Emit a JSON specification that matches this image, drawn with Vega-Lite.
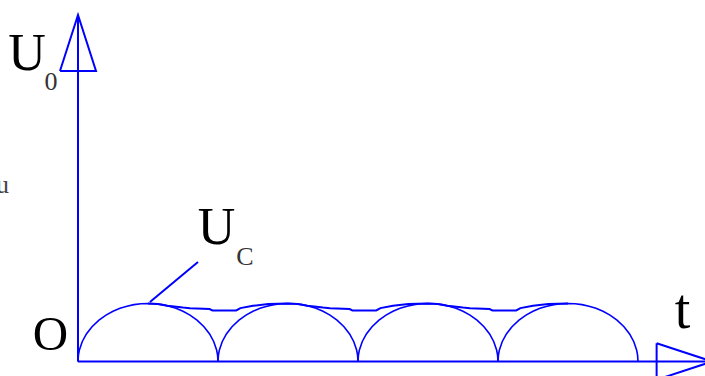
{
  "$schema": "https://vega.github.io/schema/vega-lite/v6.json",
  "width": 705,
  "height": 376,
  "autosize": {"type": "fit", "contains": "padding"},
  "padding": 0,
  "background": "white",
  "config": {"view": {"stroke": null}},
  "datasets": {
    "axes": [
      {"s": "xaxis", "t": 0, "v": 0}, {"s": "xaxis", "t": 46, "v": 0},
      {"s": "yaxis", "t": 0, "v": 0}, {"s": "yaxis", "t": 0, "v": 59.74},
      {"s": "xarrow", "t": 41.33, "v": 3.15}, {"s": "xarrow", "t": 45.29, "v": 0}, {"s": "xarrow", "t": 41.33, "v": -3.15}, {"s": "xarrow", "t": 41.33, "v": 3.15},
      {"s": "yarrow", "t": -1.286, "v": 50.09}, {"s": "yarrow", "t": 0, "v": 59.74}, {"s": "yarrow", "t": 1.286, "v": 50.09}, {"s": "yarrow", "t": -1.286, "v": 50.09}
    ],
    "humps": [
      {"s": "h1", "t": 0, "v": 0}, {"s": "h1", "t": 0.03, "v": 1.09}, {"s": "h1", "t": 0.1, "v": 1.99}, {"s": "h1", "t": 0.3, "v": 3.41}, {"s": "h1", "t": 0.6, "v": 4.75}, {"s": "h1", "t": 1, "v": 6.0}, {"s": "h1", "t": 1.5, "v": 7.14}, {"s": "h1", "t": 2, "v": 8.0}, {"s": "h1", "t": 2.5, "v": 8.66}, {"s": "h1", "t": 3, "v": 9.17}, {"s": "h1", "t": 3.5, "v": 9.54}, {"s": "h1", "t": 4, "v": 9.8}, {"s": "h1", "t": 4.5, "v": 9.95}, {"s": "h1", "t": 5, "v": 10}, {"s": "h1", "t": 5.5, "v": 9.95}, {"s": "h1", "t": 6, "v": 9.8}, {"s": "h1", "t": 6.5, "v": 9.54}, {"s": "h1", "t": 7, "v": 9.17}, {"s": "h1", "t": 7.5, "v": 8.66}, {"s": "h1", "t": 8, "v": 8.0}, {"s": "h1", "t": 8.5, "v": 7.14}, {"s": "h1", "t": 9, "v": 6.0}, {"s": "h1", "t": 9.4, "v": 4.75}, {"s": "h1", "t": 9.7, "v": 3.41}, {"s": "h1", "t": 9.9, "v": 1.99}, {"s": "h1", "t": 9.97, "v": 1.09}, {"s": "h1", "t": 10, "v": 0},
      {"s": "h2", "t": 10, "v": 0}, {"s": "h2", "t": 10.03, "v": 1.09}, {"s": "h2", "t": 10.1, "v": 1.99}, {"s": "h2", "t": 10.3, "v": 3.41}, {"s": "h2", "t": 10.6, "v": 4.75}, {"s": "h2", "t": 11, "v": 6.0}, {"s": "h2", "t": 11.5, "v": 7.14}, {"s": "h2", "t": 12, "v": 8.0}, {"s": "h2", "t": 12.5, "v": 8.66}, {"s": "h2", "t": 13, "v": 9.17}, {"s": "h2", "t": 13.5, "v": 9.54}, {"s": "h2", "t": 14, "v": 9.8}, {"s": "h2", "t": 14.5, "v": 9.95}, {"s": "h2", "t": 15, "v": 10}, {"s": "h2", "t": 15.5, "v": 9.95}, {"s": "h2", "t": 16, "v": 9.8}, {"s": "h2", "t": 16.5, "v": 9.54}, {"s": "h2", "t": 17, "v": 9.17}, {"s": "h2", "t": 17.5, "v": 8.66}, {"s": "h2", "t": 18, "v": 8.0}, {"s": "h2", "t": 18.5, "v": 7.14}, {"s": "h2", "t": 19, "v": 6.0}, {"s": "h2", "t": 19.4, "v": 4.75}, {"s": "h2", "t": 19.7, "v": 3.41}, {"s": "h2", "t": 19.9, "v": 1.99}, {"s": "h2", "t": 19.97, "v": 1.09}, {"s": "h2", "t": 20, "v": 0},
      {"s": "h3", "t": 20, "v": 0}, {"s": "h3", "t": 20.03, "v": 1.09}, {"s": "h3", "t": 20.1, "v": 1.99}, {"s": "h3", "t": 20.3, "v": 3.41}, {"s": "h3", "t": 20.6, "v": 4.75}, {"s": "h3", "t": 21, "v": 6.0}, {"s": "h3", "t": 21.5, "v": 7.14}, {"s": "h3", "t": 22, "v": 8.0}, {"s": "h3", "t": 22.5, "v": 8.66}, {"s": "h3", "t": 23, "v": 9.17}, {"s": "h3", "t": 23.5, "v": 9.54}, {"s": "h3", "t": 24, "v": 9.8}, {"s": "h3", "t": 24.5, "v": 9.95}, {"s": "h3", "t": 25, "v": 10}, {"s": "h3", "t": 25.5, "v": 9.95}, {"s": "h3", "t": 26, "v": 9.8}, {"s": "h3", "t": 26.5, "v": 9.54}, {"s": "h3", "t": 27, "v": 9.17}, {"s": "h3", "t": 27.5, "v": 8.66}, {"s": "h3", "t": 28, "v": 8.0}, {"s": "h3", "t": 28.5, "v": 7.14}, {"s": "h3", "t": 29, "v": 6.0}, {"s": "h3", "t": 29.4, "v": 4.75}, {"s": "h3", "t": 29.7, "v": 3.41}, {"s": "h3", "t": 29.9, "v": 1.99}, {"s": "h3", "t": 29.97, "v": 1.09}, {"s": "h3", "t": 30, "v": 0},
      {"s": "h4", "t": 30, "v": 0}, {"s": "h4", "t": 30.03, "v": 1.09}, {"s": "h4", "t": 30.1, "v": 1.99}, {"s": "h4", "t": 30.3, "v": 3.41}, {"s": "h4", "t": 30.6, "v": 4.75}, {"s": "h4", "t": 31, "v": 6.0}, {"s": "h4", "t": 31.5, "v": 7.14}, {"s": "h4", "t": 32, "v": 8.0}, {"s": "h4", "t": 32.5, "v": 8.66}, {"s": "h4", "t": 33, "v": 9.17}, {"s": "h4", "t": 33.5, "v": 9.54}, {"s": "h4", "t": 34, "v": 9.8}, {"s": "h4", "t": 34.5, "v": 9.95}, {"s": "h4", "t": 35, "v": 10}, {"s": "h4", "t": 35.5, "v": 9.95}, {"s": "h4", "t": 36, "v": 9.8}, {"s": "h4", "t": 36.5, "v": 9.54}, {"s": "h4", "t": 37, "v": 9.17}, {"s": "h4", "t": 37.5, "v": 8.66}, {"s": "h4", "t": 38, "v": 8.0}, {"s": "h4", "t": 38.5, "v": 7.14}, {"s": "h4", "t": 39, "v": 6.0}, {"s": "h4", "t": 39.4, "v": 4.75}, {"s": "h4", "t": 39.7, "v": 3.41}, {"s": "h4", "t": 39.9, "v": 1.99}, {"s": "h4", "t": 39.97, "v": 1.09}, {"s": "h4", "t": 40, "v": 0}
    ],
    "envelope": [
      {"s": "uc", "t": 5, "v": 10}, {"s": "uc", "t": 5.7, "v": 9.9}, {"s": "uc", "t": 6.4, "v": 9.6}, {"s": "uc", "t": 7.5, "v": 9.3}, {"s": "uc", "t": 8.0, "v": 9.2}, {"s": "uc", "t": 9.4, "v": 9.05}, {"s": "uc", "t": 9.6, "v": 8.8}, {"s": "uc", "t": 11.3, "v": 8.8}, {"s": "uc", "t": 11.6, "v": 9.2}, {"s": "uc", "t": 12.5, "v": 9.6}, {"s": "uc", "t": 13.6, "v": 9.9},
      {"s": "uc", "t": 15, "v": 10}, {"s": "uc", "t": 15.7, "v": 9.9}, {"s": "uc", "t": 16.4, "v": 9.6}, {"s": "uc", "t": 17.5, "v": 9.3}, {"s": "uc", "t": 18.0, "v": 9.2}, {"s": "uc", "t": 19.4, "v": 9.05}, {"s": "uc", "t": 19.6, "v": 8.8}, {"s": "uc", "t": 21.3, "v": 8.8}, {"s": "uc", "t": 21.6, "v": 9.2}, {"s": "uc", "t": 22.5, "v": 9.6}, {"s": "uc", "t": 23.6, "v": 9.9},
      {"s": "uc", "t": 25, "v": 10}, {"s": "uc", "t": 25.7, "v": 9.9}, {"s": "uc", "t": 26.4, "v": 9.6}, {"s": "uc", "t": 27.5, "v": 9.3}, {"s": "uc", "t": 28.0, "v": 9.2}, {"s": "uc", "t": 29.4, "v": 9.05}, {"s": "uc", "t": 29.6, "v": 8.8}, {"s": "uc", "t": 31.3, "v": 8.8}, {"s": "uc", "t": 31.6, "v": 9.2}, {"s": "uc", "t": 32.5, "v": 9.6}, {"s": "uc", "t": 33.6, "v": 9.9},
      {"s": "uc", "t": 35, "v": 10},
      {"s": "lead", "t": 5.14, "v": 10.26}, {"s": "lead", "t": 8.57, "v": 17.16}
    ],
    "bigU": [
      {"label": "U", "t": -3.64, "v": 50.2},
      {"label": "U", "t": 9.9, "v": 20.2}
    ],
    "subs": [
      {"label": "0", "t": -1.93, "v": 46.8},
      {"label": "C", "t": 11.93, "v": 16.6}
    ],
    "origin": [{"label": "O", "t": -1.96, "v": 1.9}],
    "tlabel": [{"label": "t", "t": 43.18, "v": 5.8}],
    "ulabel": [{"label": "u", "t": -4.93, "v": 29.05}]
  },
  "encoding": {
    "x": {"field": "t", "type": "quantitative", "scale": {"domain": [-5.5714, 44.7857], "nice": false, "zero": false}, "axis": null},
    "y": {"field": "v", "type": "quantitative", "scale": {"domain": [-2.5, 62.328], "nice": false, "zero": false}, "axis": null}
  },
  "layer": [
    {
      "data": {"name": "axes"},
      "mark": {"type": "line", "color": "#0000ff", "strokeWidth": 2, "clip": true},
      "encoding": {"detail": {"field": "s"}, "order": {"value": null}}
    },
    {
      "data": {"name": "humps"},
      "mark": {"type": "line", "color": "#0000ff", "strokeWidth": 1.6, "clip": true},
      "encoding": {"detail": {"field": "s"}, "order": {"value": null}}
    },
    {
      "data": {"name": "envelope"},
      "mark": {"type": "line", "color": "#0000ff", "strokeWidth": 2, "clip": true},
      "encoding": {"detail": {"field": "s"}, "order": {"value": null}}
    },
    {
      "data": {"name": "bigU"},
      "mark": {"type": "text", "font": "'Liberation Serif', 'Times New Roman', 'DejaVu Serif', serif", "fontSize": 52, "align": "center", "baseline": "alphabetic", "color": "#000000", "clip": true},
      "encoding": {"text": {"field": "label"}}
    },
    {
      "data": {"name": "subs"},
      "mark": {"type": "text", "font": "'Liberation Serif', 'Times New Roman', 'DejaVu Serif', serif", "fontSize": 26, "align": "center", "baseline": "alphabetic", "color": "#333333", "clip": true},
      "encoding": {"text": {"field": "label"}}
    },
    {
      "data": {"name": "origin"},
      "mark": {"type": "text", "font": "'Liberation Serif', 'Times New Roman', 'DejaVu Serif', serif", "fontSize": 49, "align": "center", "baseline": "alphabetic", "color": "#000000", "clip": true},
      "encoding": {"text": {"field": "label"}}
    },
    {
      "data": {"name": "tlabel"},
      "mark": {"type": "text", "font": "'Liberation Serif', 'Times New Roman', 'DejaVu Serif', serif", "fontSize": 56, "align": "center", "baseline": "alphabetic", "color": "#000000", "clip": true},
      "encoding": {"text": {"field": "label"}}
    },
    {
      "data": {"name": "ulabel"},
      "mark": {"type": "text", "font": "'Liberation Serif', 'Times New Roman', 'DejaVu Serif', serif", "fontSize": 26, "align": "right", "baseline": "alphabetic", "color": "#444444", "clip": true},
      "encoding": {"text": {"field": "label"}}
    }
  ]
}
